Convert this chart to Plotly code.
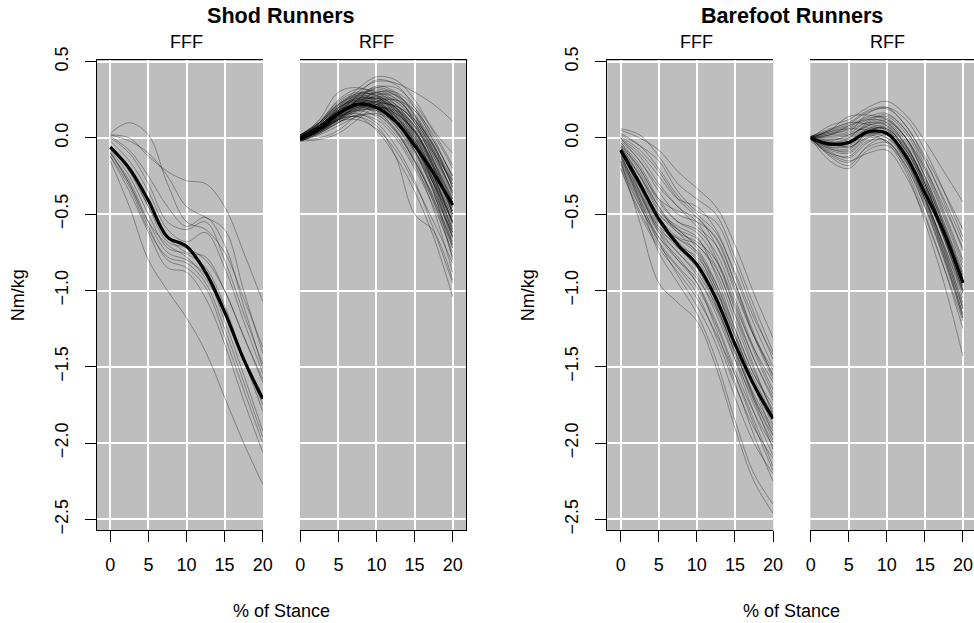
import plotly.graph_objects as go

# ---------------- data ----------------
stance_pct = [0, 2.5, 5, 7.5, 10, 12.5, 15, 17.5, 20]

shod_fff_mean = [-0.06, -0.20, -0.41, -0.65, -0.71, -0.88, -1.14, -1.45, -1.71]
shod_fff_curves = [
    [0.02, 0.00, -0.12, -0.22, -0.28, -0.30, -0.45, -0.75, -1.07],
    [0.03, 0.10, 0.02, -0.30, -0.55, -0.60, -0.75, -1.05, -1.37],
    [0.02, -0.02, -0.10, -0.25, -0.45, -0.52, -0.60, -1.00, -1.41],
    [0.01, -0.08, -0.25, -0.45, -0.58, -0.52, -0.70, -1.10, -1.51],
    [-0.02, -0.15, -0.35, -0.60, -0.68, -0.62, -0.85, -1.20, -1.54],
    [-0.05, -0.20, -0.45, -0.68, -0.72, -0.80, -1.00, -1.30, -1.58],
    [-0.08, -0.25, -0.50, -0.72, -0.76, -0.85, -1.10, -1.45, -1.79],
    [-0.10, -0.28, -0.55, -0.75, -0.80, -0.90, -1.20, -1.55, -1.92],
    [-0.12, -0.32, -0.60, -0.78, -0.82, -0.95, -1.25, -1.60, -1.96],
    [-0.09, -0.30, -0.58, -0.80, -0.85, -0.98, -1.30, -1.65, -2.00],
    [-0.12, -0.35, -0.62, -0.85, -0.88, -1.05, -1.35, -1.72, -2.06],
    [-0.15, -0.45, -0.80, -1.00, -1.18, -1.40, -1.70, -2.00, -2.27],
    [-0.06, -0.22, -0.45, -0.65, -0.75, -0.78, -1.00, -1.30, -1.60],
    [0.00, -0.10, -0.30, -0.55, -0.60, -0.55, -0.80, -1.15, -1.48],
    [-0.10, -0.30, -0.55, -0.70, -0.78, -0.92, -1.15, -1.45, -1.75],
]

shod_rff_mean = [-0.01, 0.06, 0.16, 0.22, 0.20, 0.11, -0.05, -0.23, -0.44]
shod_rff_curves = [
    [0.00, 0.07, 0.18, 0.30, 0.37, 0.36, 0.30, 0.22, 0.11],
    [0.01, 0.08, 0.20, 0.32, 0.40, 0.38, 0.25, 0.05, -0.10],
    [0.00, 0.06, 0.16, 0.28, 0.38, 0.35, 0.20, -0.02, -0.25],
    [-0.01, 0.05, 0.14, 0.25, 0.34, 0.30, 0.15, -0.08, -0.30],
    [0.02, 0.10, 0.25, 0.32, 0.30, 0.22, 0.08, -0.10, -0.28],
    [0.01, 0.12, 0.30, 0.33, 0.28, 0.15, -0.02, -0.22, -0.45],
    [0.00, 0.10, 0.22, 0.28, 0.25, 0.12, -0.08, -0.30, -0.55],
    [-0.02, 0.04, 0.12, 0.22, 0.30, 0.28, 0.10, -0.15, -0.42],
    [-0.01, 0.05, 0.15, 0.24, 0.27, 0.20, 0.02, -0.25, -0.55],
    [0.00, 0.06, 0.15, 0.20, 0.18, 0.08, -0.10, -0.35, -0.65],
    [-0.02, 0.03, 0.10, 0.15, 0.12, 0.00, -0.20, -0.45, -0.75],
    [0.01, 0.07, 0.14, 0.16, 0.10, -0.05, -0.28, -0.60, -0.95],
    [0.00, 0.05, 0.12, 0.14, 0.05, -0.12, -0.35, -0.65, -1.04],
    [0.02, 0.09, 0.20, 0.24, 0.20, 0.10, -0.05, -0.28, -0.55],
    [-0.01, 0.04, 0.13, 0.22, 0.26, 0.24, 0.12, -0.10, -0.38],
    [0.00, 0.07, 0.18, 0.26, 0.28, 0.20, 0.05, -0.18, -0.48],
    [0.01, 0.08, 0.19, 0.25, 0.22, 0.12, -0.05, -0.30, -0.62],
    [-0.02, 0.03, 0.10, 0.18, 0.24, 0.25, 0.18, 0.02, -0.20],
    [0.00, 0.05, 0.12, 0.17, 0.20, 0.18, 0.08, -0.12, -0.35],
    [0.01, 0.07, 0.16, 0.21, 0.21, 0.14, -0.02, -0.25, -0.52],
    [-0.01, 0.06, 0.14, 0.18, 0.14, 0.02, -0.18, -0.42, -0.72],
    [0.00, 0.05, 0.11, 0.12, 0.06, -0.08, -0.30, -0.55, -0.82],
    [0.02, 0.10, 0.22, 0.27, 0.24, 0.15, 0.00, -0.22, -0.48],
    [0.00, 0.06, 0.17, 0.27, 0.32, 0.28, 0.15, -0.05, -0.30],
    [-0.01, 0.04, 0.12, 0.20, 0.24, 0.18, 0.00, -0.25, -0.58],
    [0.01, 0.08, 0.17, 0.22, 0.20, 0.08, -0.12, -0.40, -0.70],
    [0.00, 0.07, 0.18, 0.23, 0.22, 0.16, 0.05, -0.18, -0.42],
    [0.02, 0.11, 0.24, 0.30, 0.27, 0.18, 0.02, -0.20, -0.45],
    [-0.02, -0.01, 0.03, 0.12, 0.20, 0.15, -0.02, -0.30, -0.65],
    [0.00, 0.05, 0.12, 0.14, 0.08, -0.12, -0.50, -0.61, -0.93],
    [0.01, 0.08, 0.18, 0.22, 0.18, 0.05, -0.15, -0.38, -0.62],
    [-0.01, 0.05, 0.13, 0.18, 0.20, 0.12, -0.05, -0.35, -0.80],
    [0.00, 0.06, 0.15, 0.22, 0.24, 0.20, 0.08, -0.15, -0.50],
    [0.01, 0.09, 0.21, 0.28, 0.30, 0.24, 0.10, -0.10, -0.35],
    [0.00, 0.05, 0.14, 0.21, 0.22, 0.14, -0.03, -0.28, -0.60],
    [-0.01, 0.00, 0.05, 0.15, 0.22, 0.21, 0.12, -0.05, -0.28],
    [0.02, 0.08, 0.17, 0.21, 0.16, 0.04, -0.15, -0.40, -0.68],
    [0.00, 0.07, 0.16, 0.24, 0.26, 0.22, 0.10, -0.12, -0.40],
    [0.01, 0.06, 0.13, 0.19, 0.21, 0.16, 0.04, -0.20, -0.50],
    [-0.01, 0.04, 0.12, 0.21, 0.28, 0.28, 0.18, -0.02, -0.25],
    [0.00, 0.08, 0.19, 0.27, 0.29, 0.22, 0.06, -0.18, -0.46],
    [0.01, 0.06, 0.15, 0.23, 0.27, 0.25, 0.14, -0.06, -0.32],
    [-0.01, 0.05, 0.14, 0.22, 0.25, 0.19, 0.03, -0.22, -0.52],
    [0.00, 0.09, 0.20, 0.25, 0.23, 0.13, -0.04, -0.27, -0.56],
    [0.02, 0.10, 0.21, 0.26, 0.25, 0.18, 0.04, -0.16, -0.40],
    [0.00, 0.06, 0.16, 0.25, 0.30, 0.30, 0.20, 0.00, -0.27],
    [-0.02, 0.03, 0.11, 0.19, 0.22, 0.16, -0.01, -0.28, -0.62],
    [0.01, 0.07, 0.17, 0.23, 0.24, 0.17, 0.01, -0.24, -0.56],
    [0.00, 0.05, 0.15, 0.24, 0.29, 0.26, 0.12, -0.09, -0.36],
    [0.01, 0.09, 0.22, 0.29, 0.31, 0.26, 0.13, -0.06, -0.32],
    [-0.01, 0.04, 0.13, 0.20, 0.19, 0.09, -0.09, -0.34, -0.66],
    [0.00, 0.07, 0.17, 0.22, 0.19, 0.10, -0.08, -0.33, -0.64],
    [0.02, 0.08, 0.18, 0.25, 0.26, 0.20, 0.07, -0.14, -0.42],
    [0.00, 0.06, 0.14, 0.19, 0.17, 0.06, -0.14, -0.42, -0.78],
    [-0.01, 0.05, 0.15, 0.25, 0.33, 0.33, 0.22, 0.04, -0.18],
    [0.01, 0.08, 0.18, 0.24, 0.23, 0.14, -0.03, -0.26, -0.54],
    [0.00, 0.05, 0.12, 0.18, 0.18, 0.10, -0.06, -0.30, -0.60],
    [0.00, 0.07, 0.19, 0.28, 0.33, 0.29, 0.16, -0.04, -0.33],
    [-0.02, 0.02, 0.08, 0.14, 0.16, 0.10, -0.08, -0.36, -0.72],
    [0.01, 0.10, 0.23, 0.29, 0.28, 0.20, 0.05, -0.16, -0.44],
    [0.00, 0.06, 0.16, 0.22, 0.23, 0.17, 0.04, -0.19, -0.48],
    [-0.01, 0.04, 0.10, 0.15, 0.15, 0.05, -0.16, -0.47, -0.88],
    [0.00, 0.08, 0.20, 0.26, 0.26, 0.19, 0.04, -0.20, -0.50],
    [0.01, 0.06, 0.15, 0.21, 0.23, 0.21, 0.11, -0.08, -0.37],
    [0.00, 0.05, 0.13, 0.20, 0.21, 0.13, -0.04, -0.31, -0.70],
]

bare_fff_mean = [-0.08, -0.30, -0.53, -0.70, -0.83, -1.05, -1.35, -1.62, -1.84]
bare_fff_curves = [
    [0.05, 0.00, -0.08, -0.22, -0.33, -0.45, -0.70, -1.02, -1.31],
    [0.06, 0.02, -0.12, -0.30, -0.40, -0.50, -0.78, -1.10, -1.40],
    [0.02, -0.05, -0.15, -0.35, -0.48, -0.55, -0.82, -1.15, -1.45],
    [0.00, -0.10, -0.25, -0.40, -0.45, -0.60, -0.90, -1.22, -1.50],
    [-0.02, -0.15, -0.35, -0.50, -0.55, -0.65, -0.95, -1.30, -1.58],
    [-0.05, -0.20, -0.42, -0.55, -0.60, -0.75, -1.05, -1.38, -1.65],
    [-0.04, -0.22, -0.45, -0.60, -0.70, -0.85, -1.15, -1.45, -1.70],
    [-0.08, -0.28, -0.50, -0.62, -0.75, -0.95, -1.25, -1.55, -1.78],
    [-0.10, -0.32, -0.55, -0.68, -0.80, -1.00, -1.30, -1.58, -1.82],
    [-0.12, -0.35, -0.58, -0.72, -0.85, -1.10, -1.40, -1.68, -1.90],
    [-0.15, -0.40, -0.62, -0.75, -0.90, -1.15, -1.45, -1.72, -1.95],
    [-0.18, -0.45, -0.65, -0.78, -0.95, -1.20, -1.52, -1.80, -2.02],
    [-0.20, -0.48, -0.70, -0.85, -1.02, -1.30, -1.62, -1.90, -2.10],
    [-0.10, -0.40, -0.68, -0.90, -1.10, -1.35, -1.70, -2.00, -2.20],
    [-0.15, -0.55, -0.95, -1.08, -1.20, -1.50, -1.90, -2.25, -2.46],
    [-0.12, -0.42, -0.75, -0.95, -1.15, -1.45, -1.85, -2.20, -2.40],
    [-0.08, -0.35, -0.62, -0.80, -0.95, -1.25, -1.60, -1.95, -2.25],
    [-0.05, -0.25, -0.48, -0.58, -0.65, -0.90, -1.25, -1.55, -1.75],
    [0.00, -0.15, -0.32, -0.45, -0.55, -0.78, -1.10, -1.38, -1.60],
    [-0.03, -0.20, -0.40, -0.48, -0.52, -0.70, -1.00, -1.30, -1.52],
    [-0.06, -0.28, -0.52, -0.65, -0.70, -0.88, -1.20, -1.52, -1.80],
    [-0.10, -0.30, -0.55, -0.70, -0.78, -0.98, -1.30, -1.62, -1.88],
    [-0.14, -0.38, -0.60, -0.70, -0.82, -1.08, -1.42, -1.75, -2.00],
    [-0.09, -0.30, -0.50, -0.60, -0.72, -0.95, -1.28, -1.62, -1.95],
    [0.03, -0.05, -0.20, -0.38, -0.50, -0.62, -0.88, -1.18, -1.42],
    [-0.01, -0.12, -0.30, -0.45, -0.58, -0.70, -0.98, -1.30, -1.55],
    [-0.16, -0.42, -0.65, -0.80, -0.92, -1.12, -1.45, -1.80, -2.08],
    [-0.07, -0.25, -0.45, -0.62, -0.68, -0.80, -1.08, -1.40, -1.68],
    [-0.11, -0.36, -0.60, -0.75, -0.88, -1.10, -1.40, -1.70, -1.92],
    [-0.20, -0.50, -0.72, -0.88, -1.05, -1.28, -1.55, -1.85, -2.15],
    [-0.03, -0.18, -0.40, -0.55, -0.62, -0.80, -1.12, -1.45, -1.72],
    [-0.13, -0.37, -0.58, -0.66, -0.74, -0.98, -1.35, -1.70, -1.98],
    [0.01, -0.08, -0.22, -0.40, -0.52, -0.66, -0.95, -1.28, -1.56],
    [-0.06, -0.24, -0.47, -0.60, -0.66, -0.84, -1.16, -1.50, -1.82],
    [-0.17, -0.44, -0.68, -0.84, -0.98, -1.22, -1.55, -1.88, -2.18],
    [-0.09, -0.33, -0.56, -0.66, -0.76, -1.02, -1.38, -1.72, -2.04],
]

bare_rff_mean = [0.00, -0.04, -0.03, 0.04, 0.03, -0.12, -0.36, -0.62, -0.95]
bare_rff_curves = [
    [0.00, 0.08, 0.12, 0.20, 0.24, 0.15, -0.02, -0.22, -0.42],
    [0.01, 0.06, 0.10, 0.18, 0.20, 0.08, -0.12, -0.35, -0.60],
    [0.00, 0.05, 0.14, 0.15, 0.12, 0.00, -0.20, -0.45, -0.72],
    [-0.01, 0.02, 0.06, 0.12, 0.15, 0.05, -0.18, -0.48, -0.80],
    [0.00, -0.02, 0.02, 0.08, 0.10, -0.02, -0.25, -0.55, -0.88],
    [0.00, -0.05, -0.03, 0.05, 0.06, -0.08, -0.32, -0.60, -0.92],
    [-0.01, -0.08, -0.10, 0.00, 0.03, -0.10, -0.35, -0.65, -1.00],
    [0.01, -0.12, -0.18, -0.05, 0.00, -0.15, -0.40, -0.70, -1.05],
    [0.00, -0.15, -0.20, -0.08, -0.05, -0.18, -0.45, -0.78, -1.15],
    [-0.02, -0.10, -0.12, -0.02, -0.02, -0.20, -0.50, -0.85, -1.25],
    [0.00, -0.06, -0.05, 0.02, -0.03, -0.22, -0.55, -0.95, -1.43],
    [0.01, 0.03, 0.05, 0.10, 0.08, -0.10, -0.38, -0.72, -1.10],
    [0.00, 0.00, 0.02, 0.07, 0.05, -0.12, -0.40, -0.70, -1.02],
    [0.00, -0.03, 0.00, 0.10, 0.12, 0.00, -0.22, -0.52, -0.85],
    [-0.01, -0.04, -0.02, 0.06, 0.08, -0.05, -0.28, -0.58, -0.90],
    [0.01, 0.02, 0.08, 0.14, 0.16, 0.05, -0.15, -0.40, -0.68],
    [0.00, -0.02, -0.06, 0.02, 0.04, -0.08, -0.30, -0.62, -0.98],
    [0.00, -0.10, -0.15, -0.10, -0.08, -0.25, -0.52, -0.85, -1.20],
    [0.01, 0.04, 0.08, 0.12, 0.10, -0.05, -0.30, -0.62, -0.95],
    [0.00, -0.07, -0.08, 0.04, 0.07, -0.05, -0.30, -0.60, -0.94],
    [-0.01, -0.05, -0.04, 0.03, 0.00, -0.15, -0.42, -0.75, -1.12],
    [0.00, 0.02, 0.04, 0.16, 0.20, 0.12, -0.08, -0.35, -0.65],
    [0.01, -0.01, 0.01, 0.09, 0.11, 0.00, -0.25, -0.56, -0.90],
    [0.00, -0.04, -0.06, 0.00, -0.02, -0.18, -0.45, -0.80, -1.18],
    [0.00, 0.04, 0.06, 0.05, 0.02, -0.12, -0.36, -0.66, -1.00],
    [-0.01, -0.09, -0.13, -0.03, 0.02, -0.10, -0.38, -0.72, -1.08],
    [0.00, 0.01, 0.03, 0.11, 0.14, 0.03, -0.20, -0.50, -0.82],
    [0.01, -0.03, -0.01, 0.06, 0.05, -0.08, -0.33, -0.66, -1.02],
    [0.00, 0.05, 0.10, 0.09, 0.06, -0.06, -0.28, -0.58, -0.92],
    [0.00, -0.06, -0.07, 0.03, 0.04, -0.12, -0.40, -0.74, -1.12],
    [0.00, 0.03, 0.07, 0.13, 0.13, 0.00, -0.26, -0.58, -0.94],
    [-0.01, -0.07, -0.09, 0.01, 0.03, -0.12, -0.40, -0.76, -1.16],
    [0.01, 0.05, 0.09, 0.17, 0.19, 0.08, -0.14, -0.42, -0.74],
    [0.00, -0.04, -0.04, 0.05, 0.06, -0.07, -0.32, -0.64, -1.00],
    [0.00, -0.11, -0.16, -0.06, -0.03, -0.16, -0.43, -0.78, -1.18],
    [0.01, 0.00, 0.00, 0.08, 0.09, -0.04, -0.30, -0.62, -0.97],
]

x_ticks = [0, 5, 10, 15, 20]
y_ticks = [0.5, 0.0, -0.5, -1.0, -1.5, -2.0, -2.5]
y_tick_text = ["0.5", "0.0", "\u22120.5", "\u22121.0", "\u22121.5", "\u22122.0", "\u22122.5"]

# ---------------- figure ----------------
W, H = 974, 623
FONT = "Liberation Sans, Arial, Helvetica, sans-serif"
BG = "#BEBEBE"
THIN = "rgba(0,0,0,0.33)"

panels = [
    (shod_fff_curves, shod_fff_mean, "x", "y"),
    (shod_rff_curves, shod_rff_mean, "x2", "y2"),
    (bare_fff_curves, bare_fff_mean, "x3", "y3"),
    (bare_rff_curves, bare_rff_mean, "x4", "y4"),
]

fig = go.Figure()
for curves, mean, xa, ya in panels:
    for c in curves:
        fig.add_trace(go.Scatter(x=stance_pct, y=c, mode="lines", xaxis=xa, yaxis=ya,
                                 line=dict(color=THIN, width=1, shape="spline", smoothing=1.0),
                                 hoverinfo="skip", showlegend=False))
    fig.add_trace(go.Scatter(x=stance_pct, y=mean, mode="lines", xaxis=xa, yaxis=ya,
                             line=dict(color="black", width=3.2, shape="spline", smoothing=1.0),
                             hoverinfo="skip", showlegend=False))

def px(v):
    return v / W

def py(v):
    return 1 - v / H

y_dom = [py(530), py(60)]
y_rng = [-2.57, 0.511]

xcommon = dict(tickmode="array", tickvals=x_ticks, ticktext=[str(t) for t in x_ticks],
               ticks="outside", ticklen=11, tickwidth=1, tickcolor="black",
               ticklabelstandoff=7,
               showgrid=True, gridcolor="white", gridwidth=1.5, zeroline=False,
               showline=True, mirror=True, linecolor="black", linewidth=1,
               automargin=False,
               tickfont=dict(family=FONT, size=18, color="black"), fixedrange=True)
ycommon = dict(range=y_rng, domain=y_dom, tickmode="array", tickvals=y_ticks, ticktext=y_tick_text,
               showgrid=True, gridcolor="white", gridwidth=1.5, zeroline=False,
               automargin=False,
               tickfont=dict(family=FONT, size=18, color="black"), fixedrange=True)

fig.update_layout(
    width=W, height=H, margin=dict(l=0, r=0, t=0, b=0, autoexpand=False),
    paper_bgcolor="white", plot_bgcolor=BG, showlegend=False,
    font=dict(family=FONT, size=18, color="black"),
    xaxis=dict(domain=[px(96.7), px(263)], range=[-1.785, 20.04], anchor="y", **xcommon),
    xaxis2=dict(domain=[px(299.9), px(466)], range=[-0.05, 21.75], anchor="y2", **xcommon),
    xaxis3=dict(domain=[px(607.3), px(773.3)], range=[-1.76, 20.04], anchor="y3", **xcommon),
    xaxis4=dict(domain=[px(810.3), 1.0], range=[-0.05, 21.45], anchor="y4", **xcommon),
    yaxis=dict(anchor="x", ticks="outside", ticklen=11, tickwidth=1, tickcolor="black",
               tickangle=-90, ticklabelstandoff=10,
               showline=True, linecolor="black", linewidth=1, **ycommon),
    yaxis2=dict(anchor="x2", side="right", showticklabels=False, ticks="",
                showline=True, linecolor="black", linewidth=1, **ycommon),
    yaxis3=dict(anchor="x3", ticks="outside", ticklen=11, tickwidth=1, tickcolor="black",
                tickangle=-90, ticklabelstandoff=10,
                showline=True, linecolor="black", linewidth=1, **ycommon),
    yaxis4=dict(anchor="x4", side="right", showticklabels=False, ticks="", showline=False, **ycommon),
)

def ann(text, x, y, size=18, bold=False, angle=0):
    fig.add_annotation(text=f"<b>{text}</b>" if bold else text, x=px(x), y=py(y),
                       xref="paper", yref="paper", xanchor="center", yanchor="middle",
                       showarrow=False, textangle=angle,
                       font=dict(family=FONT, size=size, color="black"))

ann("Shod Runners", 281.3, 15, size=21.6, bold=True)
ann("Barefoot Runners", 791.7, 15, size=21.6, bold=True)
ann("FFF", 186.5, 42.5)
ann("RFF", 376.5, 42.5)
ann("FFF", 696.8, 42.5)
ann("RFF", 887.0, 42.5)
ann("% of Stance", 281.2, 611)
ann("% of Stance", 791.2, 611)
ann("Nm/kg", 18.3, 295, angle=-90)
ann("Nm/kg", 528.3, 295, angle=-90)

fig.write_html("out.html")
